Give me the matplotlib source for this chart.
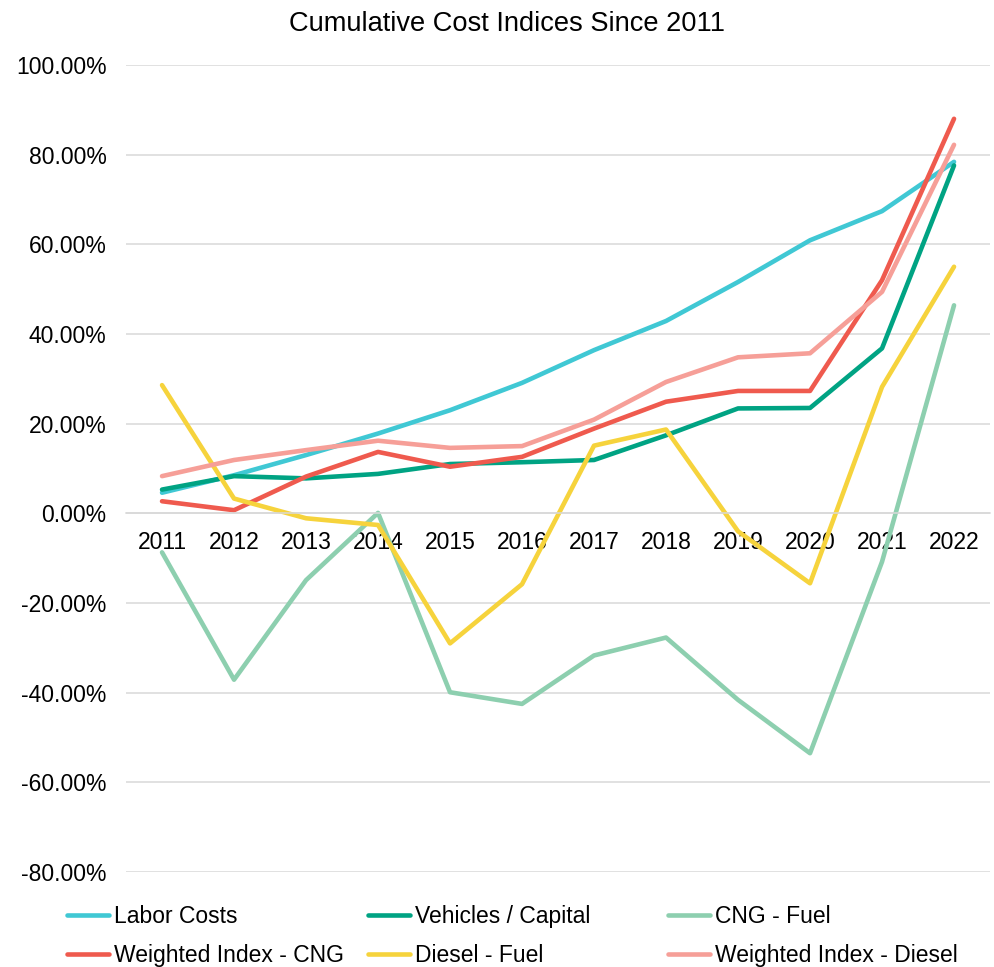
import matplotlib.pyplot as plt
from matplotlib.ticker import FuncFormatter

plt.rcParams['font.family'] = ['Liberation Sans', 'DejaVu Sans']

years = ['2011', '2012', '2013', '2014', '2015', '2016',
         '2017', '2018', '2019', '2020', '2021', '2022']

# cumulative change in percent
labor = [4.6, 8.5, 13.0, 17.8, 23.0, 29.1, 36.4, 42.9, 51.6, 60.9, 67.4, 78.4]
vehicles = [5.3, 8.3, 7.8, 8.8, 11.0, 11.4, 11.9, 17.4, 23.4, 23.5, 36.8, 77.6]
cng_fuel = [-8.7, -37.1, -14.9, 0.1, -39.9, -42.5, -31.7, -27.7, -41.6, -53.5, -10.8, 46.4]
weighted_cng = [2.7, 0.7, 8.2, 13.7, 10.4, 12.6, 18.9, 24.9, 27.3, 27.3, 52.0, 88.0]
diesel_fuel = [28.6, 3.3, -1.1, -2.6, -29.0, -15.8, 15.1, 18.7, -4.0, -15.6, 28.2, 55.0]
weighted_diesel = [8.3, 11.9, 14.1, 16.2, 14.6, 15.0, 20.9, 29.3, 34.8, 35.7, 49.4, 82.2]

series = [
    ('Labor Costs', labor, '#40C8D4'),
    ('Vehicles / Capital', vehicles, '#00A383'),
    ('CNG - Fuel', cng_fuel, '#8DCFAF'),
    ('Weighted Index - CNG', weighted_cng, '#EF5A4E'),
    ('Diesel - Fuel', diesel_fuel, '#F6D33C'),
    ('Weighted Index - Diesel', weighted_diesel, '#F69F98'),
]

fig = plt.figure(figsize=(9.94, 9.67), dpi=100)
ax = fig.add_axes([0.1268, 0.0982, 0.8692, 0.8346])

x = list(range(len(years)))
handles = []
for name, vals, col in series:
    h, = ax.plot(x, vals, color=col, lw=3.3, label=name,
                 solid_capstyle='round', solid_joinstyle='round')
    handles.append(h)

ax.set_xlim(-0.5, len(years) - 0.5)
ax.set_ylim(-80, 100)
ax.set_yticks(range(-80, 101, 20))
ax.yaxis.set_major_formatter(FuncFormatter(lambda v, p: f'{v:.2f}%'))
ax.set_xticks(x)
ax.set_xticklabels(years)

ax.grid(axis='y', color='#D9D9D9', lw=1.1)
ax.set_axisbelow(True)
for s in ['top', 'right', 'left']:
    ax.spines[s].set_visible(False)
ax.spines['bottom'].set_position(('data', 0))
ax.spines['bottom'].set_color('#D9D9D9')
ax.spines['bottom'].set_linewidth(1.1)
ax.tick_params(axis='both', length=0, labelsize=16.5)
ax.tick_params(axis='x', pad=13)
ax.tick_params(axis='y', pad=14)

fig.suptitle('Cumulative Cost Indices Since 2011', fontsize=19.6, x=0.51, y=0.975, va='center')

# Excel-style legend: three fixed-width columns, filled row by row
col_x = [67 / 994, 368 / 994, 668 / 994]
for i, cx in enumerate(col_x):
    fig.legend([handles[i], handles[i + 3]],
               [series[i][0], series[i + 3][0]],
               loc='center left', bbox_to_anchor=(cx, 1 - 936 / 967),
               frameon=False, fontsize=16.5, handlelength=1.85,
               handletextpad=0.2, borderpad=0, borderaxespad=0,
               labelspacing=0.68)

fig.savefig('out.png', dpi=100)
